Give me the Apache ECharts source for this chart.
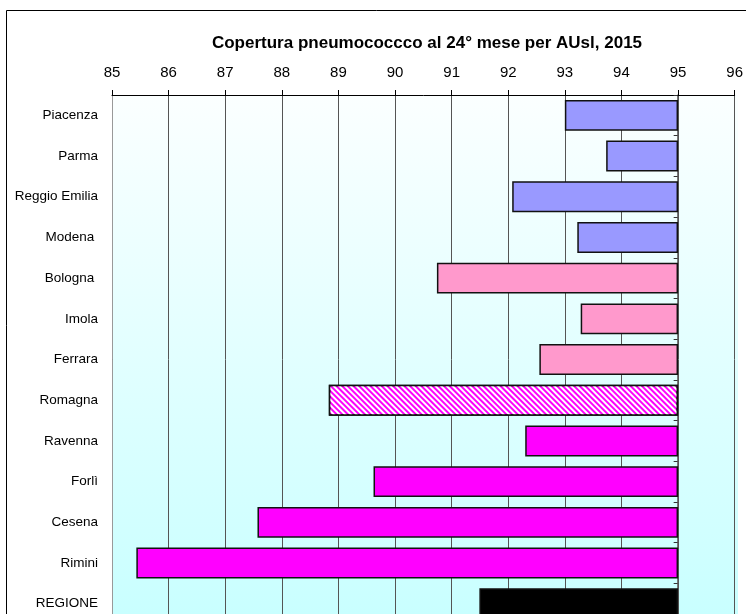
<!DOCTYPE html>
<html lang="it">
<head>
<meta charset="utf-8">
<title>Copertura pneumococco</title>
<script src="https://cdn.jsdelivr.net/npm/echarts@6/dist/echarts.min.js"></script>
<style>
  html, body { margin: 0; padding: 0; background: #fff; overflow: hidden; }
  #main { width: 746px; height: 640px; }
</style>
</head>
<body>
<div id="main"></div>
<script>
// dati
var categories = ['Piacenza', 'Parma', 'Reggio Emilia', 'Modena ', 'Bologna ', 'Imola', 'Ferrara',
                  'Romagna', 'Ravenna', 'Forlì', 'Cesena', 'Rimini', 'REGIONE'];
var values = [93.0, 93.73, 92.07, 93.22, 90.74, 93.28, 92.55, 88.83, 92.30, 89.62, 87.57, 85.43, 91.49];
var target = 95;  // le barre partono dal 95%
var xTicks = [85, 86, 87, 88, 89, 90, 91, 92, 93, 94, 95, 96];
var barColors = ['#9999FF', '#9999FF', '#9999FF', '#9999FF', '#FF99CC', '#FF99CC', '#FF99CC',
                 '#FF00FF', '#FF00FF', '#FF00FF', '#FF00FF', '#FF00FF', '#000000'];
var hatched = 'Romagna';

// la div è più alta della finestra: l'ultima riga viene tagliata come nell'originale
var myChart = echarts.init(document.getElementById('main'));

var gridTop = 95, bandH = 40.7;

option = {
    animation: false,
    graphic: [
        { type: 'rect', shape: { x: 6.5, y: 10.5, width: 760, height: 660 },
          style: { fill: 'none', stroke: '#000', lineWidth: 1 }, z: -10 },
        { type: 'rect', shape: { x: 112, y: gridTop, width: 626, height: bandH * 13 },
          style: { fill: new echarts.graphic.LinearGradient(0, 0, 0, 1, [
              { offset: 0, color: '#FBFFFF' }, { offset: 1, color: '#C8FFFF' }]) }, z: -5 },
        { type: 'text', x: 427, y: 43,
          style: { text: 'Copertura pneumococcco al 24° mese per AUsl, 2015',
                   font: 'bold 17px "Liberation Sans", Arial, sans-serif',
                   fill: '#000', align: 'center', verticalAlign: 'middle' } }
    ],
    grid: {
        left: 112, right: 8, top: gridTop, height: bandH * 13,
        containLabel: false
    },
    xAxis: {
        type: 'value', position: 'top', min: 85, max: 96, interval: 1,
        axisLine: { show: true, lineStyle: { color: '#000', width: 1 } },
        axisTick: { show: true, length: 5, lineStyle: { color: '#000' } },
        axisLabel: { fontSize: 15, color: '#000', margin: 15,
                     fontFamily: '"Liberation Sans", Arial, sans-serif',
                     formatter: function (v) { return xTicks.indexOf(v) >= 0 ? String(v) : ''; } },
        splitLine: { show: true, lineStyle: { color: '#555', width: 1 } }
    },
    yAxis: [
        {
            type: 'category', inverse: true, data: categories, position: 'left',
            axisLine: { show: true, lineStyle: { color: '#999', width: 1 } },
            axisTick: { show: false },
            axisLabel: { fontSize: 13.5, color: '#000', margin: 14,
                         fontFamily: '"Liberation Sans", Arial, sans-serif' }
        },
        {
            // asse categorie che incrocia a 95
            type: 'category', inverse: true, data: categories, position: 'right',
            offset: -57,
            axisLine: { show: true, lineStyle: { color: '#777', width: 1 } },
            axisTick: { show: true, inside: true, length: 4, lineStyle: { color: '#333' } },
            axisLabel: { show: false }
        }
    ],
    series: [
        {
            type: 'bar', stack: 'a', barCategoryGap: '24%', silent: true,
            itemStyle: { color: 'transparent' },
            data: values
        },
        {
            type: 'bar', stack: 'a', barCategoryGap: '24%',
            data: values.map(function (v, i) {
                var st = { color: barColors[i], borderColor: '#111', borderWidth: 1.5 };
                if (categories[i] === hatched) {
                    st.decal = { symbol: 'rect', symbolSize: 1, color: '#FFFFFF',
                                 dashArrayX: [1, 0], dashArrayY: [2, 2],
                                 rotation: Math.PI / 4 };
                }
                return { value: +(target - v).toFixed(2), itemStyle: st };
            })
        }
    ]
};

myChart.setOption(option);
</script>
</body>
</html>
